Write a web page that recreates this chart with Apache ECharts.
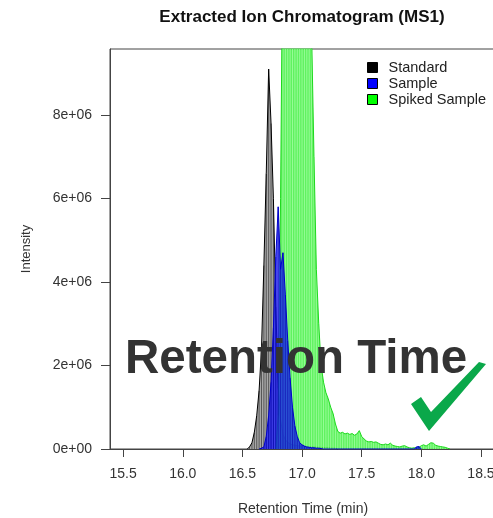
<!DOCTYPE html>
<html>
<head>
<meta charset="utf-8">
<script src="https://cdn.jsdelivr.net/npm/echarts@6/dist/echarts.min.js"></script>
<style>
  html, body { margin: 0; padding: 0; background: #fff; }
  #chart { width: 493px; height: 518px; }
</style>
</head>
<body>
<div id="chart"></div>
<script>
// intensities are in units of 1e6 counts, times in minutes
var SCALE = 1e6;

var stdTime = [16.54, 16.56, 16.58, 16.60, 16.62, 16.64, 16.66, 16.68, 16.70, 16.72,
  16.74, 16.76, 16.78, 16.80, 16.82, 16.84, 16.86, 16.88, 16.90, 16.92,
  16.94, 16.96, 16.98, 17.00, 17.02, 17.04, 17.06, 17.08, 17.10, 17.12,
  17.14, 17.16, 17.18, 17.20, 17.22, 17.24, 17.26, 17.28, 17.30];
var stdInt = [0.00, 0.05, 0.15, 0.40, 0.80, 1.40, 2.40, 4.40, 6.60, 9.10,
  7.80, 6.00, 3.40, 1.50, 0.70, 0.35, 0.22, 0.16, 0.12, 0.10,
  0.09, 0.08, 0.07, 0.07, 0.06, 0.06, 0.05, 0.05, 0.05, 0.04,
  0.04, 0.04, 0.03, 0.03, 0.03, 0.02, 0.02, 0.02, 0.00];

var sampleTime = [16.64, 16.66, 16.68, 16.70, 16.72, 16.74, 16.76, 16.78, 16.80, 16.82,
  16.84, 16.86, 16.88, 16.90, 16.92, 16.94, 16.96, 16.98, 17.00, 17.02,
  17.04, 17.06, 17.08, 17.10, 17.12, 17.14, 17.16, 17.18,
  17.94, 17.96, 17.98, 18.00];
var sampleInt = [0.00, 0.02, 0.05, 0.30, 0.80, 1.60, 2.90, 4.60, 5.80, 4.30,
  4.70, 3.70, 2.60, 1.70, 1.00, 0.55, 0.30, 0.15, 0.10, 0.07,
  0.05, 0.04, 0.03, 0.03, 0.02, 0.02, 0.01, 0.00,
  0.00, 0.05, 0.06, 0.00];

var spikedTime = [16.78, 16.80, 16.82, 16.84, 16.86, 16.88, 16.90, 16.92, 16.94, 16.96,
  16.98, 17.00, 17.02, 17.04, 17.06, 17.08, 17.10, 17.12, 17.14, 17.16,
  17.18, 17.20, 17.22, 17.24, 17.26, 17.28, 17.30, 17.32, 17.34, 17.36,
  17.38, 17.40, 17.42, 17.44, 17.46, 17.48, 17.50, 17.52, 17.54, 17.56,
  17.58, 17.60, 17.62, 17.64, 17.66, 17.68, 17.70, 17.72, 17.74, 17.76,
  17.78, 17.80, 17.82, 17.84, 17.86, 17.88, 17.90, 17.92, 17.94, 17.96,
  17.98, 18.00, 18.02, 18.04, 18.06, 18.08, 18.10, 18.12, 18.14, 18.16,
  18.18, 18.20, 18.22, 18.24];
var spikedInt = [0.00, 0.80, 6.00, 13.0, 18.0, 21.0, 23.0, 24.0, 24.0, 23.0,
  21.0, 18.5, 16.0, 13.5, 11.5, 10.0, 7.00, 4.30, 3.00, 2.00,
  1.60, 1.35, 1.20, 1.00, 0.85, 0.60, 0.42, 0.38, 0.40, 0.36,
  0.38, 0.35, 0.37, 0.33, 0.36, 0.44, 0.30, 0.24, 0.19, 0.17,
  0.18, 0.16, 0.17, 0.14, 0.11, 0.10, 0.12, 0.10, 0.14, 0.09,
  0.07, 0.06, 0.05, 0.07, 0.08, 0.05, 0.03, 0.02, 0.03, 0.02,
  0.04, 0.08, 0.10, 0.07, 0.11, 0.15, 0.14, 0.09, 0.07, 0.06,
  0.05, 0.04, 0.02, 0.00];

var xTicks = [15.5, 16.0, 16.5, 17.0, 17.5, 18.0, 18.5];
var yTicks = [0, 2e6, 4e6, 6e6, 8e6];
var legendNames = ['Standard', 'Sample', 'Spiked Sample'];
var legendColors = ['#000000', '#0000ff', '#00ff00'];

var FONT = 'Liberation Sans, Arial, sans-serif';

function pairs(t, v) {
  return t.map(function (x, i) { return [x, v[i] * SCALE]; });
}

// one filled trace plus thin vertical lines at every scan, like the R plot
function trace(name, t, v, z, fill, fillOpacity, edge, stripe, stripeOpacity) {
  var d = pairs(t, v);
  return [{
    name: name,
    type: 'line',
    data: d,
    z: z,
    symbol: 'none',
    clip: true,
    lineStyle: { color: edge, width: 1 },
    itemStyle: { color: fill },
    areaStyle: { color: fill, opacity: fillOpacity }
  }, {
    name: name + ' lines',
    type: 'bar',
    data: d,
    z: z,
    barWidth: 1,
    barGap: '-100%',
    clip: true,
    itemStyle: { color: stripe, opacity: stripeOpacity }
  }];
}

var chart = echarts.init(document.getElementById('chart'), null, { renderer: 'canvas' });

var series = [].concat(
  trace('Standard', stdTime, stdInt, 2, '#a8a8a8', 1, '#000', '#333', 0.7),
  trace('Spiked Sample', spikedTime, spikedInt, 3, '#44f044', 0.85, '#1ed81e', '#a8ffa8', 0.75),
  trace('Sample', sampleTime, sampleInt, 4, '#1414ff', 0.72, '#0000cc', '#0000a0', 0.6)
);

chart.setOption({
  animation: false,
  backgroundColor: '#fff',
  textStyle: { fontFamily: FONT },
  grid: {
    left: 110, top: 49, right: -3, bottom: 69,
    outerBoundsMode: 'none',
    show: true, borderColor: '#444', borderWidth: 1
  },
  legend: {
    orient: 'vertical',
    left: 367, top: 60,
    padding: 0,
    itemWidth: 10, itemHeight: 10, itemGap: 1,
    selectedMode: false,
    textStyle: { fontSize: 14.5, color: '#222', fontFamily: FONT, padding: [0, 0, 0, 6] },
    data: legendNames.map(function (n, i) {
      return { name: n, icon: 'rect', itemStyle: { color: legendColors[i], borderColor: '#000', borderWidth: 1 } };
    })
  },
  xAxis: {
    type: 'value',
    min: 15.39, max: 18.626,
    name: 'Retention Time (min)',
    nameLocation: 'middle',
    nameGap: 53,
    nameTextStyle: { fontSize: 14, color: '#333', fontFamily: FONT },
    axisLine: { show: true, lineStyle: { color: '#444' } },
    axisTick: { show: true, length: 8, customValues: xTicks, lineStyle: { color: '#444' } },
    axisLabel: {
      customValues: xTicks, margin: 18, fontSize: 14, color: '#333', fontFamily: FONT,
      formatter: function (v) { return v.toFixed(1); }
    },
    splitLine: { show: false }
  },
  yAxis: {
    type: 'value',
    min: 0, max: 9.58e6,
    name: 'Intensity',
    nameLocation: 'middle',
    nameGap: 77,
    nameTextStyle: { fontSize: 13, color: '#333', fontFamily: FONT },
    axisLine: { show: true, lineStyle: { color: '#444' } },
    axisTick: { show: true, length: 9, customValues: yTicks, lineStyle: { color: '#444' } },
    axisLabel: {
      customValues: yTicks, margin: 18, fontSize: 14, color: '#333', fontFamily: FONT,
      formatter: function (v) { return v === 0 ? '0e+00' : (v / 1e6) + 'e+06'; }
    },
    splitLine: { show: false }
  },
  graphic: [
    {
      type: 'text', x: 302, y: 17, z: 100,
      style: { text: 'Extracted Ion Chromatogram (MS1)', font: 'bold 17px ' + FONT, fill: '#111', align: 'center', verticalAlign: 'middle' }
    },
    {
      type: 'text', x: 125, y: 360, z: 100,
      style: { text: 'Retention Time', font: 'bold 47.5px ' + FONT, fill: '#333', align: 'left', verticalAlign: 'middle' }
    },
    {
      type: 'polygon', z: 100,
      shape: { points: [[411, 404], [421, 397], [431, 412], [479, 362], [486, 364], [429, 431]] },
      style: { fill: '#0aa84a' }
    }
  ],
  series: series
});
</script>
</body>
</html>
